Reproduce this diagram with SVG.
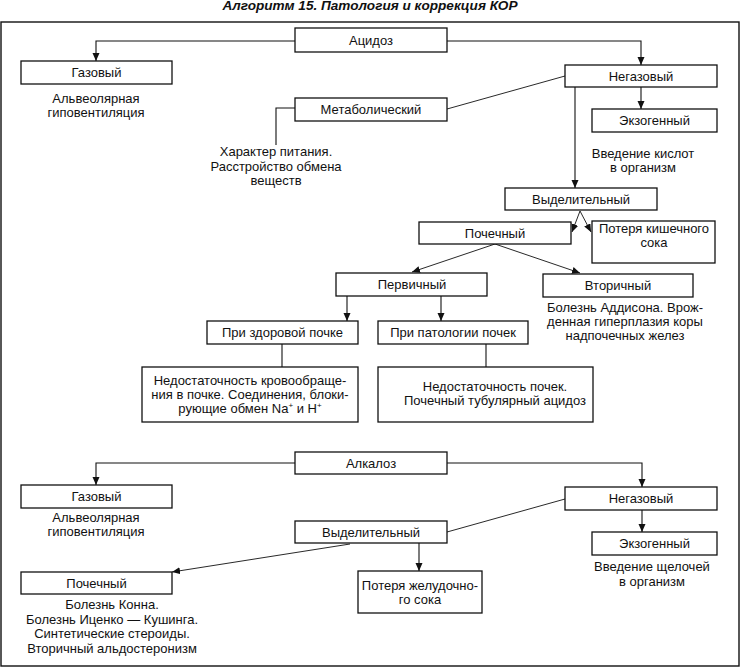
<svg xmlns="http://www.w3.org/2000/svg" width="740" height="667" viewBox="0 0 740 667">
<defs>
<marker id="arr" markerUnits="userSpaceOnUse" markerWidth="9" markerHeight="8" refX="8" refY="3.5" orient="auto">
<path d="M0,0 L8,3.5 L0,7 z" fill="#111"/>
</marker>
<style>
.box{fill:#fff;stroke:#111;stroke-width:1.3}
.t{font-family:"Liberation Sans",Arial,sans-serif;font-size:13px;fill:#111;text-anchor:middle}
.c{fill:none;stroke:#111;stroke-width:1.1}
.d{fill:none;stroke:#111;stroke-width:0.9}
.title{font-family:"Liberation Sans",Arial,sans-serif;font-size:12px;font-weight:bold;font-style:italic;fill:#111;text-anchor:middle}
</style>
</defs>
<rect width="740" height="667" fill="#fff"/>
<text class="title" x="370" y="10" textLength="295" lengthAdjust="spacingAndGlyphs">Алгоритм 15. Патология и коррекция КОР</text>
<rect x="1" y="22" width="738" height="644" fill="none" stroke="#111" stroke-width="1.4"/>

<g id="connectors">
<path class="c" d="M295,41 H96 V61" marker-end="url(#arr)"/>
<path class="c" d="M447,41 H641 V65" marker-end="url(#arr)"/>
<path class="d" d="M447,109 L565,76"/>
<path class="c" d="M295,108 H276 V145"/>
<path class="c" d="M641,87 V109" marker-end="url(#arr)"/>
<path class="c" d="M575,87 V188" marker-end="url(#arr)"/>
<path class="d" d="M580,211 L572,232" marker-end="url(#arr)"/>
<path class="d" d="M580,211 L591,232" marker-end="url(#arr)"/>
<path class="d" d="M495,244 L412,272" marker-end="url(#arr)"/>
<path class="d" d="M495,244 L580,273" marker-end="url(#arr)"/>
<path class="c" d="M347,296 V321" marker-end="url(#arr)"/>
<path class="c" d="M441,296 V321" marker-end="url(#arr)"/>
<path class="c" d="M282,344 V367"/>
<path class="c" d="M486,344 V367"/>
<path class="c" d="M295,463 H96 V485" marker-end="url(#arr)"/>
<path class="c" d="M447,463 H642 V487" marker-end="url(#arr)"/>
<path class="d" d="M447,532 L565,499"/>
<path class="c" d="M642,510 V532" marker-end="url(#arr)"/>
<path class="c" d="M419,543 V571" marker-end="url(#arr)"/>
<path class="d" d="M350,544 L172,572" marker-end="url(#arr)"/>
</g>

<g id="acidosis"><rect class="box" x="295" y="28" width="152" height="24"/><text class="t" x="371" y="45">Ацидоз</text></g>
<g id="a-gas"><rect class="box" x="21" y="61" width="151" height="23"/><text class="t" x="96.5" y="77">Газовый</text>
<text class="t" x="96" y="103">Альвеолярная</text><text class="t" x="96" y="117">гиповентиляция</text></g>
<g id="a-nongas"><rect class="box" x="565" y="65" width="152" height="22"/><text class="t" x="641" y="81">Негазовый</text></g>
<g id="a-metab"><rect class="box" x="295" y="98" width="152" height="23"/><text class="t" x="371" y="114">Метаболический</text>
<text class="t" x="276" y="156">Характер питания.</text><text class="t" x="276" y="171">Расстройство обмена</text><text class="t" x="276" y="185">веществ</text></g>
<g id="a-exo"><rect class="box" x="592" y="109" width="125" height="23"/><text class="t" x="654.5" y="125">Экзогенный</text>
<text class="t" x="643" y="158">Введение кислот</text><text class="t" x="643" y="172">в организм</text></g>
<g id="a-excr"><rect class="box" x="505" y="188" width="152" height="22"/><text class="t" x="581" y="204">Выделительный</text></g>
<g id="a-renal"><rect class="box" x="419" y="222" width="152" height="22"/><text class="t" x="495" y="238">Почечный</text></g>
<g id="a-gut"><rect class="box" x="592" y="221" width="123" height="42"/><text class="t" x="654" y="233">Потеря кишечного</text><text class="t" x="654" y="247">сока</text></g>
<g id="a-primary"><rect class="box" x="336" y="273" width="151" height="23"/><text class="t" x="412" y="289">Первичный</text></g>
<g id="a-secondary"><rect class="box" x="543" y="274" width="150" height="23"/><text class="t" x="618" y="290">Вторичный</text>
<text class="t" x="625" y="312">Болезнь Аддисона. Врож-</text><text class="t" x="625" y="326">денная гиперплазия коры</text><text class="t" x="625" y="340">надпочечных желез</text></g>
<g id="a-healthy"><rect class="box" x="207" y="321" width="151" height="23"/><text class="t" x="282.5" y="337">При здоровой почке</text></g>
<g id="a-patho"><rect class="box" x="378" y="321" width="150" height="23"/><text class="t" x="453" y="337">При патологии почек</text></g>
<g id="a-healthy-box"><rect class="box" x="142" y="367" width="216" height="55"/>
<text class="t" x="250" y="385">Недостаточность кровообраще-</text>
<text class="t" x="250" y="399">ния в почке. Соединения, блоки-</text>
<text class="t" x="250" y="413">рующие обмен Na<tspan font-size="8" dy="-5">+</tspan><tspan dy="5"> и H</tspan><tspan font-size="8" dy="-5">+</tspan></text></g>
<g id="a-patho-box"><rect class="box" x="378" y="367" width="215" height="55"/>
<text class="t" x="495" y="391">Недостаточность почек.</text>
<text class="t" x="495" y="405">Почечный тубулярный ацидоз</text></g>

<g id="alkalosis"><rect class="box" x="295" y="452" width="152" height="22"/><text class="t" x="371" y="468">Алкалоз</text></g>
<g id="b-gas"><rect class="box" x="21" y="485" width="151" height="23"/><text class="t" x="96.5" y="501">Газовый</text>
<text class="t" x="96" y="522">Альвеолярная</text><text class="t" x="96" y="536">гиповентиляция</text></g>
<g id="b-nongas"><rect class="box" x="565" y="487" width="152" height="23"/><text class="t" x="641" y="503">Негазовый</text></g>
<g id="b-excr"><rect class="box" x="295" y="521" width="152" height="22"/><text class="t" x="371" y="537">Выделительный</text></g>
<g id="b-exo"><rect class="box" x="592" y="532" width="125" height="23"/><text class="t" x="654.5" y="548">Экзогенный</text>
<text class="t" x="652" y="571">Введение щелочей</text><text class="t" x="652" y="586">в организм</text></g>
<g id="b-stomach"><rect class="box" x="358" y="571" width="124" height="42"/><text class="t" x="420" y="590">Потеря желудочно-</text><text class="t" x="420" y="604">го сока</text></g>
<g id="b-renal"><rect class="box" x="21" y="572" width="151" height="22"/><text class="t" x="96.5" y="588">Почечный</text>
<text class="t" x="112" y="609">Болезнь Конна.</text><text class="t" x="112" y="623.5">Болезнь Иценко — Кушинга.</text><text class="t" x="112" y="638">Синтетические стероиды.</text><text class="t" x="112" y="652.5">Вторичный альдостеронизм</text></g>
</svg>
